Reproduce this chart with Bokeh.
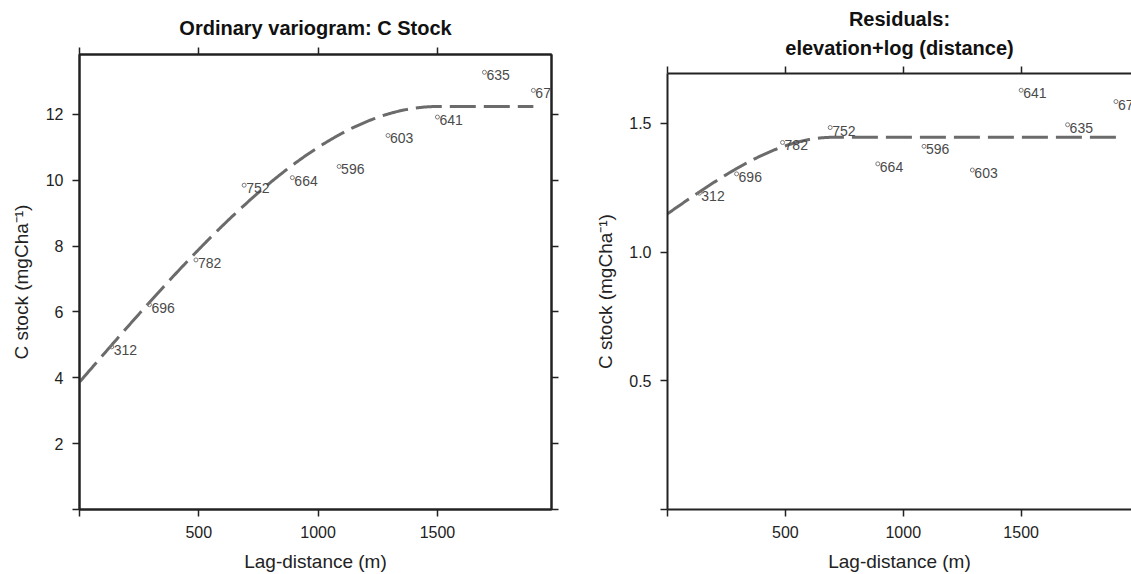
from bokeh.plotting import figure
from bokeh.layouts import row, column
from bokeh.models import FixedTicker, LinearAxis, Range1d, ColumnDataSource, PrintfTickFormatter, Title
from bokeh.core.properties import value
from bokeh.embed import file_html
from bokeh.resources import INLINE
import numpy as np

# ---- data ----
lag = [135, 293, 488, 690, 892, 1088, 1293, 1500, 1697, 1902]
pairs = ["312", "696", "782", "752", "664", "596", "603", "641", "635", "67"]
gamma_ok = [4.94, 6.22, 7.58, 9.85, 10.08, 10.42, 11.36, 11.92, 13.28, 12.73]
gamma_res = [1.229, 1.304, 1.426, 1.484, 1.343, 1.411, 1.319, 1.629, 1.495, 1.585]

# fitted spherical models (nugget, sill, range)
model_ok = dict(nugget=3.87, sill=12.24, rng=1500)
model_res = dict(nugget=1.149, sill=1.446, rng=700)

x_ticks = [0, 500, 1000, 1500]
y_ticks_ok = [0, 2, 4, 6, 8, 10, 12]
y_ticks_res = [0, 0.5, 1.0, 1.5]

FONT = "Liberation Sans"
LINE_COL = "#6b6b6b"


def spherical(h, m):
    h = np.asarray(h, dtype=float)
    r = np.clip(h / m["rng"], 0, 1)
    return m["nugget"] + (m["sill"] - m["nugget"]) * (1.5 * r - 0.5 * r ** 3)


def make_panel(titles, ys, model, yticks, ymax, xmax, width, bl, br, bt, right_axis, ylab_standoff,
               title_standoffs, yfmt=None):
    p = figure(width=width, height=574, output_backend="svg", toolbar_location=None,
               x_range=Range1d(0, xmax), y_range=Range1d(0, ymax),
               min_border_left=bl, min_border_right=br, min_border_top=bt, min_border_bottom=64,
               x_axis_location=None, y_axis_location=None, title=None)
    p.grid.visible = False
    p.background_fill_color = "white"
    p.border_fill_color = "white"
    p.outline_line_color = "#222222" if right_axis else None
    p.outline_line_width = 2

    def style(ax, ticks, labels=True):
        ax.axis_line_color = "#222222"
        ax.axis_line_width = 2
        ax.major_tick_line_color = "#222222"
        ax.major_tick_line_width = 1.5
        ax.major_tick_out = 7
        ax.major_tick_in = 0
        ax.minor_tick_line_color = None
        ax.major_label_text_font = FONT
        ax.major_label_text_color = "#222222"
        ax.major_label_text_font_size = "16px"
        ax.axis_label_text_font = FONT
        ax.axis_label_text_font_style = "normal"
        ax.axis_label_text_color = "#222222"
        ax.axis_label_text_font_size = "19px"
        if labels:
            ax.major_label_overrides = {0: ""}
        else:
            ax.major_label_overrides = {t: "" for t in ticks}
            ax.major_label_standoff = 0

    xb = LinearAxis(ticker=FixedTicker(ticks=x_ticks), axis_label="Lag-distance (m)")
    style(xb, x_ticks)
    xb.major_label_standoff = 9
    xb.axis_label_standoff = 10
    p.add_layout(xb, "below")

    xt = LinearAxis(ticker=FixedTicker(ticks=x_ticks))
    style(xt, x_ticks, labels=False)
    p.add_layout(xt, "above")

    yl = LinearAxis(ticker=FixedTicker(ticks=yticks), axis_label="C stock (mgCha\u207b\u00b9)")
    if yfmt:
        yl.formatter = PrintfTickFormatter(format=yfmt)
    style(yl, yticks)
    yl.major_label_standoff = 9
    yl.axis_label_standoff = ylab_standoff
    p.add_layout(yl, "left")

    if right_axis:
        yr = LinearAxis(ticker=FixedTicker(ticks=yticks))
        style(yr, yticks, labels=False)
        p.add_layout(yr, "right")

    # titles: first added sits closest to the frame
    for t, so in zip(reversed(titles), title_standoffs):
        tt = Title(text=t, align="center", text_font=FONT, text_font_size="20px",
                   text_font_style="bold", text_color="#111111", standoff=so)
        p.add_layout(tt, "above")

    hx = np.linspace(0, lag[-1], 400)
    p.line(hx, spherical(hx, model), line_color=LINE_COL, line_width=3,
           line_dash="26 8", line_cap="butt")

    src = ColumnDataSource(dict(x=lag, y=ys, lab=pairs))
    p.scatter("x", "y", source=src, marker="circle", size=4, fill_color=None,
              line_color="#7a7a7a", line_width=1)
    p.text("x", "y", text="lab", source=src, text_font=value(FONT), text_font_size="14px",
           text_color="#4a4a4a", text_align="left", text_baseline="middle",
           x_offset=2, y_offset=3)
    return p


p1 = make_panel(["Ordinary variogram: C Stock"], gamma_ok, model_ok, y_ticks_ok, 13.82, 1978,
                580, 79, 29, 54, True, 11, [18])
p2 = make_panel(["Residuals:", "elevation+log (distance)"], gamma_res, model_res, y_ticks_res, 1.694, 1968,
                551, 87, 0, 73, False, 10, [16, -7], yfmt="%.1f")

layout = row(column(p1), column(p2))
open("out.html", "w").write(file_html(layout, INLINE))
